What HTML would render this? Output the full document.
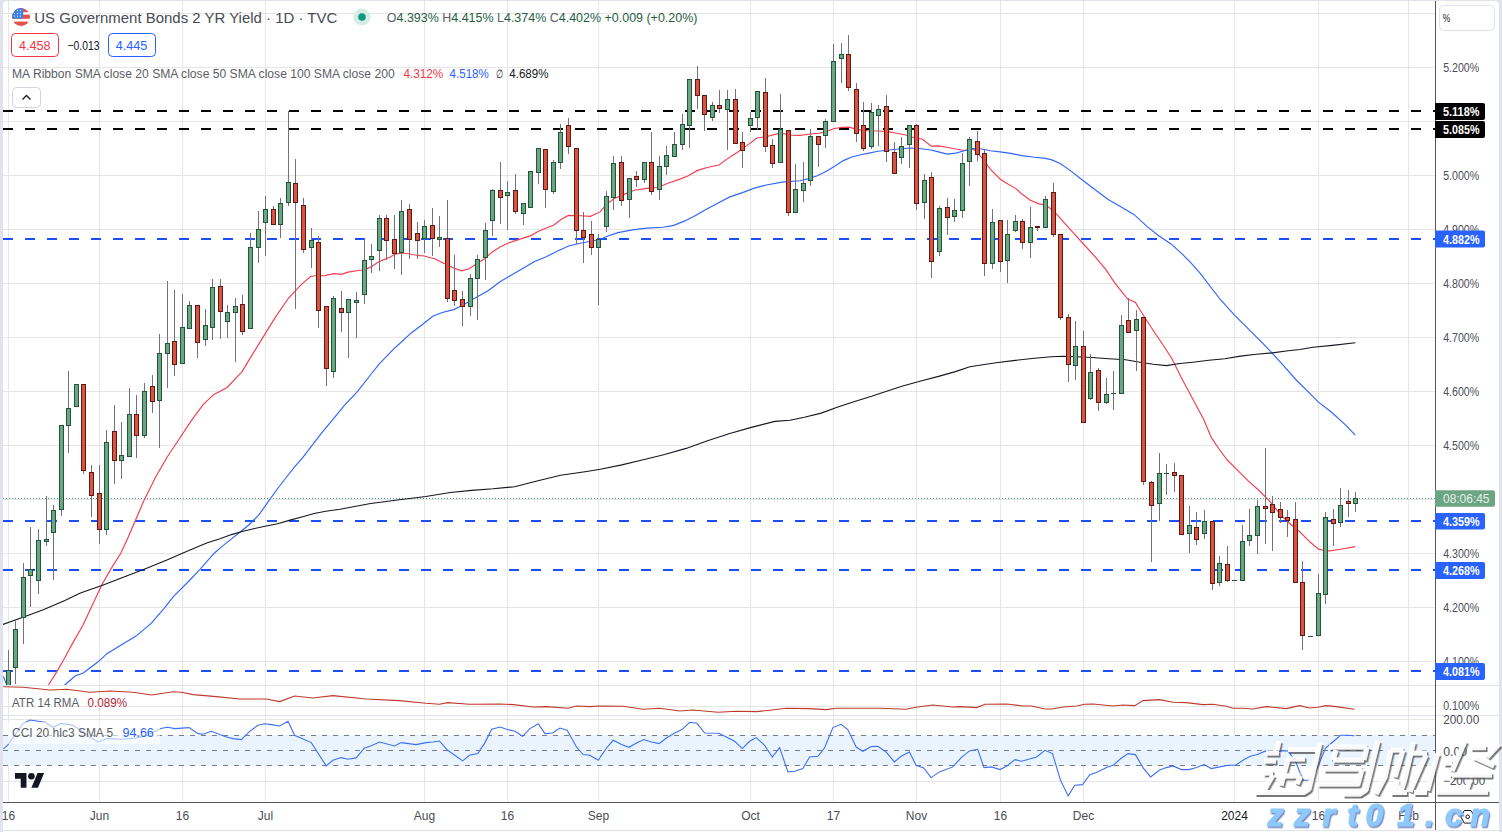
<!DOCTYPE html>
<html><head><meta charset="utf-8"><title>US02Y chart</title>
<style>
html,body{margin:0;padding:0;background:#e0e3eb;}
svg{display:block;}
text{font-family:"Liberation Sans",sans-serif;}
</style></head><body>
<svg width="1502" height="832" viewBox="0 0 1502 832">
<defs>
<clipPath id="cp"><rect x="3" y="1" width="1432" height="684"/></clipPath>
<clipPath id="ca"><rect x="3" y="686" width="1432" height="29"/></clipPath>
<clipPath id="cc"><rect x="3" y="716" width="1432" height="86"/></clipPath>
</defs>
<rect x="0" y="0" width="1502" height="832" fill="#e0e3eb"/>
<rect x="3" y="1" width="1496" height="40" rx="4" fill="#ffffff"/>
<rect x="3" y="20" width="1496" height="812" fill="#ffffff"/>
<rect x="3" y="830" width="1496" height="1" fill="#e0e3eb"/>

<rect x="3" y="13" width="1432" height="1" fill="#e6e6e6"/>
<rect x="3" y="67" width="1432" height="1" fill="#e6e6e6"/>
<rect x="3" y="121" width="1432" height="1" fill="#e6e6e6"/>
<rect x="3" y="175" width="1432" height="1" fill="#e6e6e6"/>
<rect x="3" y="229" width="1432" height="1" fill="#e6e6e6"/>
<rect x="3" y="283" width="1432" height="1" fill="#e6e6e6"/>
<rect x="3" y="337" width="1432" height="1" fill="#e6e6e6"/>
<rect x="3" y="391" width="1432" height="1" fill="#e6e6e6"/>
<rect x="3" y="445" width="1432" height="1" fill="#e6e6e6"/>
<rect x="3" y="499" width="1432" height="1" fill="#e6e6e6"/>
<rect x="3" y="553" width="1432" height="1" fill="#e6e6e6"/>
<rect x="3" y="607" width="1432" height="1" fill="#e6e6e6"/>
<rect x="3" y="661" width="1432" height="1" fill="#e6e6e6"/>
<rect x="8" y="1" width="1" height="801" fill="#e6e6e6"/>
<rect x="99" y="1" width="1" height="801" fill="#e6e6e6"/>
<rect x="182" y="1" width="1" height="801" fill="#e6e6e6"/>
<rect x="265" y="1" width="1" height="801" fill="#e6e6e6"/>
<rect x="424" y="1" width="1" height="801" fill="#e6e6e6"/>
<rect x="507" y="1" width="1" height="801" fill="#e6e6e6"/>
<rect x="598" y="1" width="1" height="801" fill="#e6e6e6"/>
<rect x="750" y="1" width="1" height="801" fill="#e6e6e6"/>
<rect x="833" y="1" width="1" height="801" fill="#e6e6e6"/>
<rect x="916" y="1" width="1" height="801" fill="#e6e6e6"/>
<rect x="1000" y="1" width="1" height="801" fill="#e6e6e6"/>
<rect x="1083" y="1" width="1" height="801" fill="#e6e6e6"/>
<rect x="1234" y="1" width="1" height="801" fill="#e6e6e6"/>
<rect x="1318" y="1" width="1" height="801" fill="#e6e6e6"/>
<rect x="1408" y="1" width="1" height="801" fill="#e6e6e6"/>
<rect x="3" y="706" width="1432" height="1" fill="#e6e6e6"/>
<rect x="3" y="719" width="1432" height="1" fill="#e6e6e6"/>
<rect x="3" y="781" width="1432" height="1" fill="#e6e6e6"/>
<rect x="3" y="685" width="1496" height="1" fill="#e0e3eb"/>
<rect x="3" y="715" width="1496" height="1" fill="#e0e3eb"/>
<g clip-path="url(#cp)">
<line x1="3" y1="111" x2="1435" y2="111" stroke="#000000" stroke-width="2" stroke-dasharray="10 12"/>
<line x1="3" y1="129" x2="1435" y2="129" stroke="#000000" stroke-width="2" stroke-dasharray="10 12"/>
<line x1="3" y1="239" x2="1435" y2="239" stroke="#1a4fff" stroke-width="2" stroke-dasharray="10 12"/>
<line x1="3" y1="521" x2="1435" y2="521" stroke="#1a4fff" stroke-width="2" stroke-dasharray="10 12"/>
<line x1="3" y1="570" x2="1435" y2="570" stroke="#1a4fff" stroke-width="2" stroke-dasharray="10 12"/>
<line x1="3" y1="671" x2="1435" y2="671" stroke="#1a4fff" stroke-width="2" stroke-dasharray="10 12"/>
<line x1="3" y1="498.5" x2="1435" y2="498.5" stroke="#4f9a72" stroke-width="1" stroke-dasharray="1 2"/>
<polyline points="44.0,692.0 48.8,684.5 55.2,674.4 64.0,659.3 72.8,642.9 82.9,625.2 91.8,606.3 101.9,584.8 112.0,567.1 120.8,553.2 128.4,536.8 136.0,519.1 143.5,501.5 151.1,486.3 155.0,478.2 167.0,457.2 179.0,439.2 191.0,421.2 203.1,404.7 213.6,394.7 227.1,387.5 242.1,371.6 251.1,356.6 263.1,337.1 275.1,317.6 288.6,298.0 300.0,285.9 305.8,280.6 310.6,276.5 315.4,275.8 325.0,275.6 333.7,273.7 341.3,274.3 348.1,272.1 361.5,270.0 367.3,268.6 372.1,266.2 378.8,261.8 384.6,259.4 390.4,257.0 395.2,254.1 401.9,253.0 408.7,253.7 413.5,254.8 420.0,255.6 423.1,255.8 434.6,258.7 444.2,263.5 451.9,267.3 461.5,270.8 469.2,268.8 476.9,263.5 484.6,258.7 492.3,251.9 500.0,247.1 507.7,243.3 519.2,239.4 530.8,235.6 538.5,231.3 553.8,225.0 561.5,219.2 568.3,215.4 580.8,215.8 590.4,216.3 600.0,211.9 607.2,203.8 614.4,198.4 625.2,193.9 634.3,190.3 646.9,188.4 657.7,187.5 668.5,183.0 679.3,179.4 688.4,175.8 697.4,170.4 708.2,167.3 719.0,165.0 726.2,159.6 737.1,152.4 746.1,146.1 756.9,138.0 765.9,136.7 773.1,134.9 780.3,133.1 791.2,135.2 800.0,135.3 808.7,134.3 818.7,133.2 826.0,132.0 833.2,128.8 841.8,127.4 849.0,127.1 857.7,129.6 867.8,130.7 877.9,131.0 886.5,131.4 898.1,133.5 906.7,135.3 913.9,137.8 922.6,139.2 931.2,146.1 938.4,145.9 947.1,147.3 955.7,149.0 964.4,150.5 973.0,148.7 981.7,157.7 990.3,169.2 1000.0,179.0 1006.5,183.3 1015.2,188.1 1021.6,193.7 1030.3,200.2 1039.0,203.9 1045.5,204.9 1054.1,211.4 1062.8,221.2 1073.6,233.1 1084.4,245.0 1095.2,256.9 1106.1,269.9 1114.7,282.9 1127.7,299.1 1135.3,302.3 1140.0,310.0 1150.6,326.5 1161.2,342.3 1171.7,358.2 1182.3,379.4 1192.9,399.2 1203.5,419.0 1211.4,437.6 1219.4,449.5 1227.3,460.0 1237.9,470.6 1248.5,481.2 1259.0,490.5 1269.6,501.1 1280.0,514.0 1288.7,522.8 1299.5,531.5 1310.3,542.3 1318.9,549.4 1323.3,550.3 1329.8,550.9 1340.6,549.2 1355.3,546.6" fill="none" stroke="#f33d4f" stroke-width="1.15"/>
<polyline points="62.0,688.0 65.3,684.5 75.4,675.7 82.9,673.2 98.1,661.8 106.9,653.7 118.3,646.7 136.0,636.1 151.1,623.4 163.7,608.8 173.8,596.2 186.5,583.5 199.1,570.4 214.2,553.2 220.0,548.1 229.6,540.4 239.2,532.7 248.8,525.0 258.5,515.4 268.1,501.9 277.7,488.5 287.3,476.0 295.0,466.3 302.7,457.7 312.3,445.2 321.9,432.7 331.5,421.2 344.4,405.3 357.4,391.6 370.4,375.0 379.1,364.2 393.5,349.1 400.0,343.3 411.5,332.7 423.1,324.0 432.7,316.3 442.3,312.5 453.8,309.6 463.5,304.8 476.9,297.1 488.5,290.4 500.0,281.7 511.5,275.0 523.1,268.3 534.6,261.5 546.2,256.7 557.7,251.0 569.2,245.8 582.7,242.7 600.0,239.5 607.2,236.2 618.0,232.6 632.5,229.9 646.9,228.1 663.1,227.2 673.9,225.4 684.8,220.9 695.6,215.5 706.4,209.2 717.2,203.4 729.8,196.9 742.5,192.6 755.1,187.9 767.7,184.8 782.1,182.1 800.0,180.7 808.7,178.6 817.3,175.7 826.0,171.4 834.6,166.3 843.3,160.6 851.9,157.0 860.6,154.8 869.2,153.1 877.9,151.2 889.4,150.0 900.9,148.7 911.0,148.0 921.1,148.7 929.8,149.7 938.4,151.9 947.1,154.1 955.7,153.1 964.4,150.8 973.0,148.7 981.7,149.0 990.3,150.8 1000.0,151.9 1010.8,153.4 1021.6,155.6 1034.6,157.3 1045.5,158.4 1051.9,159.9 1060.6,163.8 1071.4,171.4 1082.3,180.0 1095.2,189.8 1108.2,199.5 1121.2,207.1 1134.2,214.7 1147.2,226.6 1158.0,235.2 1171.0,243.9 1181.8,253.6 1190.5,262.3 1200.0,273.1 1220.7,300.0 1235.2,315.9 1251.1,331.7 1267.0,347.6 1282.9,364.8 1296.2,380.0 1306.0,389.7 1317.9,401.6 1331.9,412.5 1344.9,424.4 1355.3,435.2" fill="none" stroke="#2f66fb" stroke-width="1.15"/>
<polyline points="2,675 4,678 6.5,684.4 8,688" fill="none" stroke="#2f66fb" stroke-width="1.15"/>
<polyline points="3.0,624.4 21.6,617.8 43.3,609.7 64.9,600.5 80.4,593.1 101.9,585.6 123.3,577.2 146.1,568.4 166.3,560.3 186.5,551.5 206.7,543.1 220.0,538.8 231.5,534.6 243.1,531.3 254.6,528.5 266.2,526.0 277.7,523.7 289.2,520.4 300.8,517.3 314.2,513.5 325.8,511.2 340.0,509.3 370.6,503.5 401.3,499.5 425.8,496.5 450.3,492.5 471.7,490.4 493.1,488.8 514.6,486.7 536.0,481.2 560.5,475.3 585.0,471.7 600.3,469.2 621.8,464.9 643.2,459.7 664.7,454.5 686.1,448.4 707.5,440.7 729.0,433.7 750.4,427.6 774.9,421.4 790.0,420.3 804.4,417.2 821.2,413.1 837.9,407.1 854.7,401.4 871.5,396.3 885.9,391.5 902.7,386.0 921.8,380.7 938.6,376.4 955.4,371.6 969.8,366.8 979.4,365.2 996.1,362.8 1015.3,360.4 1034.5,358.2 1051.3,356.8 1063.2,356.3 1077.6,356.8 1092.0,357.5 1108.8,358.7 1125.6,359.7 1140.0,362.2 1153.2,364.3 1166.5,365.6 1179.7,363.5 1192.9,362.2 1208.8,360.3 1224.7,358.7 1240.5,356.1 1256.4,354.2 1272.3,352.9 1288.1,350.8 1300.0,349.5 1313.1,347.3 1332.3,345.4 1355.4,342.7" fill="none" stroke="#131722" stroke-width="1.1"/>
<rect x="8" y="650" width="1" height="50" fill="#737375"/>
<rect x="6" y="670" width="5" height="30" fill="#225437"/>
<rect x="7" y="671" width="3" height="28" fill="#6ba583"/>
<rect x="15" y="621" width="1" height="63" fill="#737375"/>
<rect x="13" y="629" width="5" height="39" fill="#225437"/>
<rect x="14" y="630" width="3" height="37" fill="#6ba583"/>
<rect x="23" y="563" width="1" height="81" fill="#737375"/>
<rect x="21" y="577" width="5" height="41" fill="#225437"/>
<rect x="22" y="578" width="3" height="39" fill="#6ba583"/>
<rect x="30" y="527" width="1" height="80" fill="#737375"/>
<rect x="28" y="569" width="5" height="7" fill="#225437"/>
<rect x="29" y="570" width="3" height="5" fill="#6ba583"/>
<rect x="38" y="529" width="1" height="65" fill="#737375"/>
<rect x="36" y="540" width="5" height="41" fill="#225437"/>
<rect x="37" y="541" width="3" height="39" fill="#6ba583"/>
<rect x="46" y="496" width="1" height="50" fill="#737375"/>
<rect x="44" y="539" width="5" height="3" fill="#225437"/>
<rect x="45" y="540" width="3" height="1" fill="#6ba583"/>
<rect x="53" y="505" width="1" height="75" fill="#737375"/>
<rect x="51" y="510" width="5" height="23" fill="#225437"/>
<rect x="52" y="511" width="3" height="21" fill="#6ba583"/>
<rect x="61" y="425" width="1" height="91" fill="#737375"/>
<rect x="59" y="425" width="5" height="85" fill="#225437"/>
<rect x="60" y="426" width="3" height="83" fill="#6ba583"/>
<rect x="68" y="371" width="1" height="82" fill="#737375"/>
<rect x="66" y="408" width="5" height="18" fill="#225437"/>
<rect x="67" y="409" width="3" height="16" fill="#6ba583"/>
<rect x="76" y="384" width="1" height="22" fill="#737375"/>
<rect x="74" y="384" width="5" height="23" fill="#225437"/>
<rect x="75" y="385" width="3" height="21" fill="#6ba583"/>
<rect x="83" y="384" width="1" height="90" fill="#737375"/>
<rect x="81" y="384" width="5" height="87" fill="#5b1a13"/>
<rect x="82" y="385" width="3" height="85" fill="#d75442"/>
<rect x="91" y="465" width="1" height="52" fill="#737375"/>
<rect x="89" y="472" width="5" height="24" fill="#5b1a13"/>
<rect x="90" y="473" width="3" height="22" fill="#d75442"/>
<rect x="99" y="465" width="1" height="79" fill="#737375"/>
<rect x="97" y="493" width="5" height="37" fill="#5b1a13"/>
<rect x="98" y="494" width="3" height="35" fill="#d75442"/>
<rect x="106" y="430" width="1" height="105" fill="#737375"/>
<rect x="104" y="442" width="5" height="88" fill="#225437"/>
<rect x="105" y="443" width="3" height="86" fill="#6ba583"/>
<rect x="114" y="405" width="1" height="79" fill="#737375"/>
<rect x="112" y="431" width="5" height="30" fill="#5b1a13"/>
<rect x="113" y="432" width="3" height="28" fill="#d75442"/>
<rect x="121" y="422" width="1" height="57" fill="#737375"/>
<rect x="119" y="455" width="5" height="6" fill="#225437"/>
<rect x="120" y="456" width="3" height="4" fill="#6ba583"/>
<rect x="129" y="388" width="1" height="68" fill="#737375"/>
<rect x="127" y="414" width="5" height="43" fill="#225437"/>
<rect x="128" y="415" width="3" height="41" fill="#6ba583"/>
<rect x="136" y="395" width="1" height="63" fill="#737375"/>
<rect x="134" y="414" width="5" height="22" fill="#5b1a13"/>
<rect x="135" y="415" width="3" height="20" fill="#d75442"/>
<rect x="144" y="383" width="1" height="55" fill="#737375"/>
<rect x="142" y="391" width="5" height="45" fill="#225437"/>
<rect x="143" y="392" width="3" height="43" fill="#6ba583"/>
<rect x="152" y="375" width="1" height="38" fill="#737375"/>
<rect x="150" y="386" width="5" height="16" fill="#5b1a13"/>
<rect x="151" y="387" width="3" height="14" fill="#d75442"/>
<rect x="159" y="334" width="1" height="114" fill="#737375"/>
<rect x="157" y="353" width="5" height="48" fill="#225437"/>
<rect x="158" y="354" width="3" height="46" fill="#6ba583"/>
<rect x="167" y="281" width="1" height="107" fill="#737375"/>
<rect x="165" y="343" width="5" height="11" fill="#225437"/>
<rect x="166" y="344" width="3" height="9" fill="#6ba583"/>
<rect x="174" y="290" width="1" height="86" fill="#737375"/>
<rect x="172" y="341" width="5" height="24" fill="#5b1a13"/>
<rect x="173" y="342" width="3" height="22" fill="#d75442"/>
<rect x="182" y="294" width="1" height="70" fill="#737375"/>
<rect x="180" y="327" width="5" height="37" fill="#225437"/>
<rect x="181" y="328" width="3" height="35" fill="#6ba583"/>
<rect x="189" y="301" width="1" height="27" fill="#737375"/>
<rect x="187" y="305" width="5" height="24" fill="#225437"/>
<rect x="188" y="306" width="3" height="22" fill="#6ba583"/>
<rect x="197" y="305" width="1" height="53" fill="#737375"/>
<rect x="195" y="305" width="5" height="38" fill="#5b1a13"/>
<rect x="196" y="306" width="3" height="36" fill="#d75442"/>
<rect x="205" y="309" width="1" height="37" fill="#737375"/>
<rect x="203" y="325" width="5" height="15" fill="#225437"/>
<rect x="204" y="326" width="3" height="13" fill="#6ba583"/>
<rect x="212" y="279" width="1" height="61" fill="#737375"/>
<rect x="210" y="287" width="5" height="41" fill="#225437"/>
<rect x="211" y="288" width="3" height="39" fill="#6ba583"/>
<rect x="220" y="279" width="1" height="60" fill="#737375"/>
<rect x="218" y="286" width="5" height="26" fill="#5b1a13"/>
<rect x="219" y="287" width="3" height="24" fill="#d75442"/>
<rect x="227" y="305" width="1" height="33" fill="#737375"/>
<rect x="225" y="312" width="5" height="10" fill="#225437"/>
<rect x="226" y="313" width="3" height="8" fill="#6ba583"/>
<rect x="235" y="298" width="1" height="64" fill="#737375"/>
<rect x="233" y="306" width="5" height="7" fill="#225437"/>
<rect x="234" y="307" width="3" height="5" fill="#6ba583"/>
<rect x="242" y="295" width="1" height="40" fill="#737375"/>
<rect x="240" y="304" width="5" height="28" fill="#5b1a13"/>
<rect x="241" y="305" width="3" height="26" fill="#d75442"/>
<rect x="250" y="233" width="1" height="95" fill="#737375"/>
<rect x="248" y="247" width="5" height="82" fill="#225437"/>
<rect x="249" y="248" width="3" height="80" fill="#6ba583"/>
<rect x="258" y="211" width="1" height="52" fill="#737375"/>
<rect x="256" y="229" width="5" height="19" fill="#225437"/>
<rect x="257" y="230" width="3" height="17" fill="#6ba583"/>
<rect x="265" y="196" width="1" height="60" fill="#737375"/>
<rect x="263" y="209" width="5" height="14" fill="#225437"/>
<rect x="264" y="210" width="3" height="12" fill="#6ba583"/>
<rect x="273" y="206" width="1" height="18" fill="#737375"/>
<rect x="271" y="209" width="5" height="16" fill="#5b1a13"/>
<rect x="272" y="210" width="3" height="14" fill="#d75442"/>
<rect x="280" y="198" width="1" height="40" fill="#737375"/>
<rect x="278" y="203" width="5" height="22" fill="#225437"/>
<rect x="279" y="204" width="3" height="20" fill="#6ba583"/>
<rect x="288" y="111" width="1" height="95" fill="#737375"/>
<rect x="286" y="182" width="5" height="21" fill="#225437"/>
<rect x="287" y="183" width="3" height="19" fill="#6ba583"/>
<rect x="295" y="159" width="1" height="150" fill="#737375"/>
<rect x="293" y="183" width="5" height="20" fill="#5b1a13"/>
<rect x="294" y="184" width="3" height="18" fill="#d75442"/>
<rect x="303" y="198" width="1" height="55" fill="#737375"/>
<rect x="301" y="205" width="5" height="45" fill="#5b1a13"/>
<rect x="302" y="206" width="3" height="43" fill="#d75442"/>
<rect x="311" y="228" width="1" height="40" fill="#737375"/>
<rect x="309" y="240" width="5" height="8" fill="#225437"/>
<rect x="310" y="241" width="3" height="6" fill="#6ba583"/>
<rect x="318" y="236" width="1" height="92" fill="#737375"/>
<rect x="316" y="242" width="5" height="69" fill="#5b1a13"/>
<rect x="317" y="243" width="3" height="67" fill="#d75442"/>
<rect x="326" y="306" width="1" height="80" fill="#737375"/>
<rect x="324" y="306" width="5" height="63" fill="#5b1a13"/>
<rect x="325" y="307" width="3" height="61" fill="#d75442"/>
<rect x="333" y="296" width="1" height="82" fill="#737375"/>
<rect x="331" y="298" width="5" height="74" fill="#225437"/>
<rect x="332" y="299" width="3" height="72" fill="#6ba583"/>
<rect x="341" y="291" width="1" height="41" fill="#737375"/>
<rect x="339" y="308" width="5" height="5" fill="#5b1a13"/>
<rect x="340" y="309" width="3" height="3" fill="#d75442"/>
<rect x="348" y="299" width="1" height="59" fill="#737375"/>
<rect x="346" y="299" width="5" height="14" fill="#225437"/>
<rect x="347" y="300" width="3" height="12" fill="#6ba583"/>
<rect x="356" y="292" width="1" height="46" fill="#737375"/>
<rect x="354" y="300" width="5" height="3" fill="#225437"/>
<rect x="355" y="301" width="3" height="1" fill="#6ba583"/>
<rect x="364" y="239" width="1" height="65" fill="#737375"/>
<rect x="362" y="260" width="5" height="35" fill="#225437"/>
<rect x="363" y="261" width="3" height="33" fill="#6ba583"/>
<rect x="371" y="244" width="1" height="29" fill="#737375"/>
<rect x="369" y="256" width="5" height="4" fill="#225437"/>
<rect x="370" y="257" width="3" height="2" fill="#6ba583"/>
<rect x="379" y="215" width="1" height="56" fill="#737375"/>
<rect x="377" y="218" width="5" height="33" fill="#225437"/>
<rect x="378" y="219" width="3" height="31" fill="#6ba583"/>
<rect x="386" y="215" width="1" height="45" fill="#737375"/>
<rect x="384" y="218" width="5" height="23" fill="#5b1a13"/>
<rect x="385" y="219" width="3" height="21" fill="#d75442"/>
<rect x="394" y="215" width="1" height="54" fill="#737375"/>
<rect x="392" y="239" width="5" height="15" fill="#5b1a13"/>
<rect x="393" y="240" width="3" height="13" fill="#d75442"/>
<rect x="401" y="200" width="1" height="75" fill="#737375"/>
<rect x="399" y="211" width="5" height="42" fill="#225437"/>
<rect x="400" y="212" width="3" height="40" fill="#6ba583"/>
<rect x="409" y="204" width="1" height="55" fill="#737375"/>
<rect x="407" y="209" width="5" height="31" fill="#5b1a13"/>
<rect x="408" y="210" width="3" height="29" fill="#d75442"/>
<rect x="417" y="222" width="1" height="37" fill="#737375"/>
<rect x="415" y="233" width="5" height="8" fill="#5b1a13"/>
<rect x="416" y="234" width="3" height="6" fill="#d75442"/>
<rect x="424" y="220" width="1" height="33" fill="#737375"/>
<rect x="422" y="226" width="5" height="13" fill="#225437"/>
<rect x="423" y="227" width="3" height="11" fill="#6ba583"/>
<rect x="432" y="208" width="1" height="48" fill="#737375"/>
<rect x="430" y="225" width="5" height="14" fill="#5b1a13"/>
<rect x="431" y="226" width="3" height="12" fill="#d75442"/>
<rect x="439" y="216" width="1" height="31" fill="#737375"/>
<rect x="437" y="237" width="5" height="3" fill="#225437"/>
<rect x="438" y="238" width="3" height="1" fill="#6ba583"/>
<rect x="447" y="200" width="1" height="102" fill="#737375"/>
<rect x="445" y="238" width="5" height="61" fill="#5b1a13"/>
<rect x="446" y="239" width="3" height="59" fill="#d75442"/>
<rect x="454" y="255" width="1" height="51" fill="#737375"/>
<rect x="452" y="290" width="5" height="11" fill="#5b1a13"/>
<rect x="453" y="291" width="3" height="9" fill="#d75442"/>
<rect x="462" y="291" width="1" height="35" fill="#737375"/>
<rect x="460" y="299" width="5" height="8" fill="#5b1a13"/>
<rect x="461" y="300" width="3" height="6" fill="#d75442"/>
<rect x="470" y="274" width="1" height="42" fill="#737375"/>
<rect x="468" y="278" width="5" height="29" fill="#225437"/>
<rect x="469" y="279" width="3" height="27" fill="#6ba583"/>
<rect x="477" y="255" width="1" height="65" fill="#737375"/>
<rect x="475" y="259" width="5" height="20" fill="#225437"/>
<rect x="476" y="260" width="3" height="18" fill="#6ba583"/>
<rect x="485" y="223" width="1" height="57" fill="#737375"/>
<rect x="483" y="230" width="5" height="28" fill="#225437"/>
<rect x="484" y="231" width="3" height="26" fill="#6ba583"/>
<rect x="492" y="189" width="1" height="47" fill="#737375"/>
<rect x="490" y="190" width="5" height="31" fill="#225437"/>
<rect x="491" y="191" width="3" height="29" fill="#6ba583"/>
<rect x="500" y="162" width="1" height="62" fill="#737375"/>
<rect x="498" y="190" width="5" height="8" fill="#5b1a13"/>
<rect x="499" y="191" width="3" height="6" fill="#d75442"/>
<rect x="507" y="181" width="1" height="49" fill="#737375"/>
<rect x="505" y="192" width="5" height="4" fill="#225437"/>
<rect x="506" y="193" width="3" height="2" fill="#6ba583"/>
<rect x="515" y="174" width="1" height="40" fill="#737375"/>
<rect x="513" y="190" width="5" height="22" fill="#5b1a13"/>
<rect x="514" y="191" width="3" height="20" fill="#d75442"/>
<rect x="523" y="203" width="1" height="22" fill="#737375"/>
<rect x="521" y="203" width="5" height="11" fill="#225437"/>
<rect x="522" y="204" width="3" height="9" fill="#6ba583"/>
<rect x="530" y="171" width="1" height="37" fill="#737375"/>
<rect x="528" y="171" width="5" height="37" fill="#225437"/>
<rect x="529" y="172" width="3" height="35" fill="#6ba583"/>
<rect x="538" y="148" width="1" height="36" fill="#737375"/>
<rect x="536" y="148" width="5" height="25" fill="#225437"/>
<rect x="537" y="149" width="3" height="23" fill="#6ba583"/>
<rect x="545" y="149" width="1" height="59" fill="#737375"/>
<rect x="543" y="149" width="5" height="41" fill="#5b1a13"/>
<rect x="544" y="150" width="3" height="39" fill="#d75442"/>
<rect x="553" y="160" width="1" height="34" fill="#737375"/>
<rect x="551" y="162" width="5" height="30" fill="#225437"/>
<rect x="552" y="163" width="3" height="28" fill="#6ba583"/>
<rect x="560" y="124" width="1" height="45" fill="#737375"/>
<rect x="558" y="132" width="5" height="31" fill="#225437"/>
<rect x="559" y="133" width="3" height="29" fill="#6ba583"/>
<rect x="568" y="118" width="1" height="36" fill="#737375"/>
<rect x="566" y="125" width="5" height="22" fill="#5b1a13"/>
<rect x="567" y="126" width="3" height="20" fill="#d75442"/>
<rect x="576" y="148" width="1" height="96" fill="#737375"/>
<rect x="574" y="148" width="5" height="83" fill="#5b1a13"/>
<rect x="575" y="149" width="3" height="81" fill="#d75442"/>
<rect x="583" y="212" width="1" height="51" fill="#737375"/>
<rect x="581" y="230" width="5" height="8" fill="#5b1a13"/>
<rect x="582" y="231" width="3" height="6" fill="#d75442"/>
<rect x="591" y="221" width="1" height="34" fill="#737375"/>
<rect x="589" y="234" width="5" height="14" fill="#5b1a13"/>
<rect x="590" y="235" width="3" height="12" fill="#d75442"/>
<rect x="598" y="234" width="1" height="71" fill="#737375"/>
<rect x="596" y="239" width="5" height="9" fill="#225437"/>
<rect x="597" y="240" width="3" height="7" fill="#6ba583"/>
<rect x="606" y="191" width="1" height="41" fill="#737375"/>
<rect x="604" y="196" width="5" height="31" fill="#225437"/>
<rect x="605" y="197" width="3" height="29" fill="#6ba583"/>
<rect x="613" y="156" width="1" height="54" fill="#737375"/>
<rect x="611" y="163" width="5" height="35" fill="#225437"/>
<rect x="612" y="164" width="3" height="33" fill="#6ba583"/>
<rect x="621" y="156" width="1" height="50" fill="#737375"/>
<rect x="619" y="162" width="5" height="39" fill="#5b1a13"/>
<rect x="620" y="163" width="3" height="37" fill="#d75442"/>
<rect x="629" y="178" width="1" height="40" fill="#737375"/>
<rect x="627" y="178" width="5" height="22" fill="#225437"/>
<rect x="628" y="179" width="3" height="20" fill="#6ba583"/>
<rect x="636" y="171" width="1" height="16" fill="#737375"/>
<rect x="634" y="176" width="5" height="4" fill="#5b1a13"/>
<rect x="635" y="177" width="3" height="2" fill="#d75442"/>
<rect x="644" y="162" width="1" height="21" fill="#737375"/>
<rect x="642" y="162" width="5" height="18" fill="#225437"/>
<rect x="643" y="163" width="3" height="16" fill="#6ba583"/>
<rect x="651" y="132" width="1" height="63" fill="#737375"/>
<rect x="649" y="162" width="5" height="30" fill="#5b1a13"/>
<rect x="650" y="163" width="3" height="28" fill="#d75442"/>
<rect x="659" y="156" width="1" height="44" fill="#737375"/>
<rect x="657" y="166" width="5" height="24" fill="#225437"/>
<rect x="658" y="167" width="3" height="22" fill="#6ba583"/>
<rect x="666" y="146" width="1" height="29" fill="#737375"/>
<rect x="664" y="155" width="5" height="12" fill="#225437"/>
<rect x="665" y="156" width="3" height="10" fill="#6ba583"/>
<rect x="674" y="132" width="1" height="24" fill="#737375"/>
<rect x="672" y="144" width="5" height="13" fill="#225437"/>
<rect x="673" y="145" width="3" height="11" fill="#6ba583"/>
<rect x="682" y="114" width="1" height="36" fill="#737375"/>
<rect x="680" y="124" width="5" height="21" fill="#225437"/>
<rect x="681" y="125" width="3" height="19" fill="#6ba583"/>
<rect x="689" y="79" width="1" height="69" fill="#737375"/>
<rect x="687" y="79" width="5" height="47" fill="#225437"/>
<rect x="688" y="80" width="3" height="45" fill="#6ba583"/>
<rect x="697" y="66" width="1" height="43" fill="#737375"/>
<rect x="695" y="79" width="5" height="17" fill="#5b1a13"/>
<rect x="696" y="80" width="3" height="15" fill="#d75442"/>
<rect x="704" y="95" width="1" height="36" fill="#737375"/>
<rect x="702" y="95" width="5" height="20" fill="#5b1a13"/>
<rect x="703" y="96" width="3" height="18" fill="#d75442"/>
<rect x="712" y="102" width="1" height="19" fill="#737375"/>
<rect x="710" y="105" width="5" height="13" fill="#225437"/>
<rect x="711" y="106" width="3" height="11" fill="#6ba583"/>
<rect x="719" y="90" width="1" height="23" fill="#737375"/>
<rect x="717" y="105" width="5" height="4" fill="#5b1a13"/>
<rect x="718" y="106" width="3" height="2" fill="#d75442"/>
<rect x="727" y="90" width="1" height="60" fill="#737375"/>
<rect x="725" y="99" width="5" height="11" fill="#225437"/>
<rect x="726" y="100" width="3" height="9" fill="#6ba583"/>
<rect x="735" y="89" width="1" height="55" fill="#737375"/>
<rect x="733" y="99" width="5" height="45" fill="#5b1a13"/>
<rect x="734" y="100" width="3" height="43" fill="#d75442"/>
<rect x="742" y="132" width="1" height="36" fill="#737375"/>
<rect x="740" y="142" width="5" height="9" fill="#5b1a13"/>
<rect x="741" y="143" width="3" height="7" fill="#d75442"/>
<rect x="750" y="112" width="1" height="20" fill="#737375"/>
<rect x="748" y="118" width="5" height="8" fill="#225437"/>
<rect x="749" y="119" width="3" height="6" fill="#6ba583"/>
<rect x="757" y="91" width="1" height="39" fill="#737375"/>
<rect x="755" y="91" width="5" height="27" fill="#225437"/>
<rect x="756" y="92" width="3" height="25" fill="#6ba583"/>
<rect x="765" y="78" width="1" height="74" fill="#737375"/>
<rect x="763" y="92" width="5" height="55" fill="#5b1a13"/>
<rect x="764" y="93" width="3" height="53" fill="#d75442"/>
<rect x="772" y="139" width="1" height="29" fill="#737375"/>
<rect x="770" y="145" width="5" height="19" fill="#5b1a13"/>
<rect x="771" y="146" width="3" height="17" fill="#d75442"/>
<rect x="780" y="94" width="1" height="68" fill="#737375"/>
<rect x="778" y="129" width="5" height="34" fill="#225437"/>
<rect x="779" y="130" width="3" height="32" fill="#6ba583"/>
<rect x="788" y="130" width="1" height="86" fill="#737375"/>
<rect x="786" y="130" width="5" height="83" fill="#5b1a13"/>
<rect x="787" y="131" width="3" height="81" fill="#d75442"/>
<rect x="795" y="164" width="1" height="48" fill="#737375"/>
<rect x="793" y="189" width="5" height="24" fill="#225437"/>
<rect x="794" y="190" width="3" height="22" fill="#6ba583"/>
<rect x="803" y="162" width="1" height="40" fill="#737375"/>
<rect x="801" y="183" width="5" height="8" fill="#225437"/>
<rect x="802" y="184" width="3" height="6" fill="#6ba583"/>
<rect x="810" y="129" width="1" height="57" fill="#737375"/>
<rect x="808" y="136" width="5" height="45" fill="#225437"/>
<rect x="809" y="137" width="3" height="43" fill="#6ba583"/>
<rect x="818" y="136" width="1" height="31" fill="#737375"/>
<rect x="816" y="136" width="5" height="9" fill="#5b1a13"/>
<rect x="817" y="137" width="3" height="7" fill="#d75442"/>
<rect x="825" y="119" width="1" height="29" fill="#737375"/>
<rect x="823" y="121" width="5" height="15" fill="#225437"/>
<rect x="824" y="122" width="3" height="13" fill="#6ba583"/>
<rect x="833" y="44" width="1" height="78" fill="#737375"/>
<rect x="831" y="61" width="5" height="61" fill="#225437"/>
<rect x="832" y="62" width="3" height="59" fill="#6ba583"/>
<rect x="841" y="43" width="1" height="40" fill="#737375"/>
<rect x="839" y="54" width="5" height="5" fill="#225437"/>
<rect x="840" y="55" width="3" height="3" fill="#6ba583"/>
<rect x="848" y="35" width="1" height="56" fill="#737375"/>
<rect x="846" y="54" width="5" height="34" fill="#5b1a13"/>
<rect x="847" y="55" width="3" height="32" fill="#d75442"/>
<rect x="856" y="83" width="1" height="59" fill="#737375"/>
<rect x="854" y="89" width="5" height="45" fill="#5b1a13"/>
<rect x="855" y="90" width="3" height="43" fill="#d75442"/>
<rect x="863" y="102" width="1" height="49" fill="#737375"/>
<rect x="861" y="125" width="5" height="24" fill="#5b1a13"/>
<rect x="862" y="126" width="3" height="22" fill="#d75442"/>
<rect x="871" y="103" width="1" height="46" fill="#737375"/>
<rect x="869" y="112" width="5" height="35" fill="#225437"/>
<rect x="870" y="113" width="3" height="33" fill="#6ba583"/>
<rect x="878" y="105" width="1" height="41" fill="#737375"/>
<rect x="876" y="109" width="5" height="7" fill="#225437"/>
<rect x="877" y="110" width="3" height="5" fill="#6ba583"/>
<rect x="886" y="95" width="1" height="67" fill="#737375"/>
<rect x="884" y="106" width="5" height="46" fill="#5b1a13"/>
<rect x="885" y="107" width="3" height="44" fill="#d75442"/>
<rect x="894" y="142" width="1" height="31" fill="#737375"/>
<rect x="892" y="152" width="5" height="22" fill="#5b1a13"/>
<rect x="893" y="153" width="3" height="20" fill="#d75442"/>
<rect x="901" y="137" width="1" height="27" fill="#737375"/>
<rect x="899" y="146" width="5" height="12" fill="#225437"/>
<rect x="900" y="147" width="3" height="10" fill="#6ba583"/>
<rect x="909" y="125" width="1" height="43" fill="#737375"/>
<rect x="907" y="125" width="5" height="20" fill="#225437"/>
<rect x="908" y="126" width="3" height="18" fill="#6ba583"/>
<rect x="916" y="124" width="1" height="86" fill="#737375"/>
<rect x="914" y="125" width="5" height="79" fill="#5b1a13"/>
<rect x="915" y="126" width="3" height="77" fill="#d75442"/>
<rect x="924" y="174" width="1" height="45" fill="#737375"/>
<rect x="922" y="180" width="5" height="23" fill="#225437"/>
<rect x="923" y="181" width="3" height="21" fill="#6ba583"/>
<rect x="931" y="172" width="1" height="106" fill="#737375"/>
<rect x="929" y="177" width="5" height="85" fill="#5b1a13"/>
<rect x="930" y="178" width="3" height="83" fill="#d75442"/>
<rect x="939" y="206" width="1" height="50" fill="#737375"/>
<rect x="937" y="208" width="5" height="44" fill="#225437"/>
<rect x="938" y="209" width="3" height="42" fill="#6ba583"/>
<rect x="947" y="198" width="1" height="37" fill="#737375"/>
<rect x="945" y="207" width="5" height="11" fill="#5b1a13"/>
<rect x="946" y="208" width="3" height="9" fill="#d75442"/>
<rect x="954" y="199" width="1" height="23" fill="#737375"/>
<rect x="952" y="210" width="5" height="7" fill="#225437"/>
<rect x="953" y="211" width="3" height="5" fill="#6ba583"/>
<rect x="962" y="153" width="1" height="65" fill="#737375"/>
<rect x="960" y="163" width="5" height="48" fill="#225437"/>
<rect x="961" y="164" width="3" height="46" fill="#6ba583"/>
<rect x="969" y="137" width="1" height="49" fill="#737375"/>
<rect x="967" y="139" width="5" height="23" fill="#225437"/>
<rect x="968" y="140" width="3" height="21" fill="#6ba583"/>
<rect x="977" y="131" width="1" height="30" fill="#737375"/>
<rect x="975" y="141" width="5" height="14" fill="#5b1a13"/>
<rect x="976" y="142" width="3" height="12" fill="#d75442"/>
<rect x="984" y="149" width="1" height="127" fill="#737375"/>
<rect x="982" y="153" width="5" height="111" fill="#5b1a13"/>
<rect x="983" y="154" width="3" height="109" fill="#d75442"/>
<rect x="992" y="209" width="1" height="60" fill="#737375"/>
<rect x="990" y="222" width="5" height="42" fill="#225437"/>
<rect x="991" y="223" width="3" height="40" fill="#6ba583"/>
<rect x="1000" y="220" width="1" height="52" fill="#737375"/>
<rect x="998" y="220" width="5" height="42" fill="#5b1a13"/>
<rect x="999" y="221" width="3" height="40" fill="#d75442"/>
<rect x="1007" y="220" width="1" height="63" fill="#737375"/>
<rect x="1005" y="234" width="5" height="27" fill="#225437"/>
<rect x="1006" y="235" width="3" height="25" fill="#6ba583"/>
<rect x="1015" y="215" width="1" height="17" fill="#737375"/>
<rect x="1013" y="221" width="5" height="10" fill="#225437"/>
<rect x="1014" y="222" width="3" height="8" fill="#6ba583"/>
<rect x="1022" y="219" width="1" height="30" fill="#737375"/>
<rect x="1020" y="221" width="5" height="22" fill="#5b1a13"/>
<rect x="1021" y="222" width="3" height="20" fill="#d75442"/>
<rect x="1030" y="207" width="1" height="51" fill="#737375"/>
<rect x="1028" y="227" width="5" height="16" fill="#225437"/>
<rect x="1029" y="228" width="3" height="14" fill="#6ba583"/>
<rect x="1037" y="226" width="1" height="5" fill="#737375"/>
<rect x="1035" y="226" width="5" height="2" fill="#5b1a13"/>
<rect x="1045" y="196" width="1" height="32" fill="#737375"/>
<rect x="1043" y="199" width="5" height="29" fill="#225437"/>
<rect x="1044" y="200" width="3" height="27" fill="#6ba583"/>
<rect x="1053" y="183" width="1" height="54" fill="#737375"/>
<rect x="1051" y="192" width="5" height="43" fill="#5b1a13"/>
<rect x="1052" y="193" width="3" height="41" fill="#d75442"/>
<rect x="1060" y="234" width="1" height="86" fill="#737375"/>
<rect x="1058" y="234" width="5" height="84" fill="#5b1a13"/>
<rect x="1059" y="235" width="3" height="82" fill="#d75442"/>
<rect x="1068" y="314" width="1" height="68" fill="#737375"/>
<rect x="1066" y="317" width="5" height="48" fill="#5b1a13"/>
<rect x="1067" y="318" width="3" height="46" fill="#d75442"/>
<rect x="1075" y="321" width="1" height="59" fill="#737375"/>
<rect x="1073" y="346" width="5" height="20" fill="#225437"/>
<rect x="1074" y="347" width="3" height="18" fill="#6ba583"/>
<rect x="1083" y="331" width="1" height="91" fill="#737375"/>
<rect x="1081" y="346" width="5" height="77" fill="#5b1a13"/>
<rect x="1082" y="347" width="3" height="75" fill="#d75442"/>
<rect x="1090" y="354" width="1" height="46" fill="#737375"/>
<rect x="1088" y="372" width="5" height="27" fill="#225437"/>
<rect x="1089" y="373" width="3" height="25" fill="#6ba583"/>
<rect x="1098" y="368" width="1" height="43" fill="#737375"/>
<rect x="1096" y="370" width="5" height="33" fill="#5b1a13"/>
<rect x="1097" y="371" width="3" height="31" fill="#d75442"/>
<rect x="1106" y="378" width="1" height="26" fill="#737375"/>
<rect x="1104" y="394" width="5" height="9" fill="#225437"/>
<rect x="1105" y="395" width="3" height="7" fill="#6ba583"/>
<rect x="1113" y="371" width="1" height="39" fill="#737375"/>
<rect x="1111" y="393" width="5" height="1" fill="#225437"/>
<rect x="1121" y="315" width="1" height="79" fill="#737375"/>
<rect x="1119" y="325" width="5" height="69" fill="#225437"/>
<rect x="1120" y="326" width="3" height="67" fill="#6ba583"/>
<rect x="1128" y="298" width="1" height="34" fill="#737375"/>
<rect x="1126" y="320" width="5" height="13" fill="#5b1a13"/>
<rect x="1127" y="321" width="3" height="11" fill="#d75442"/>
<rect x="1136" y="310" width="1" height="61" fill="#737375"/>
<rect x="1134" y="319" width="5" height="12" fill="#225437"/>
<rect x="1135" y="320" width="3" height="10" fill="#6ba583"/>
<rect x="1143" y="317" width="1" height="168" fill="#737375"/>
<rect x="1141" y="317" width="5" height="165" fill="#5b1a13"/>
<rect x="1142" y="318" width="3" height="163" fill="#d75442"/>
<rect x="1151" y="481" width="1" height="81" fill="#737375"/>
<rect x="1149" y="482" width="5" height="24" fill="#5b1a13"/>
<rect x="1150" y="483" width="3" height="22" fill="#d75442"/>
<rect x="1159" y="453" width="1" height="68" fill="#737375"/>
<rect x="1157" y="473" width="5" height="31" fill="#225437"/>
<rect x="1158" y="474" width="3" height="29" fill="#6ba583"/>
<rect x="1166" y="464" width="1" height="31" fill="#737375"/>
<rect x="1164" y="473" width="5" height="1" fill="#225437"/>
<rect x="1174" y="463" width="1" height="29" fill="#737375"/>
<rect x="1172" y="472" width="5" height="4" fill="#5b1a13"/>
<rect x="1173" y="473" width="3" height="2" fill="#d75442"/>
<rect x="1181" y="475" width="1" height="60" fill="#737375"/>
<rect x="1179" y="475" width="5" height="60" fill="#5b1a13"/>
<rect x="1180" y="476" width="3" height="58" fill="#d75442"/>
<rect x="1189" y="506" width="1" height="47" fill="#737375"/>
<rect x="1187" y="525" width="5" height="9" fill="#225437"/>
<rect x="1188" y="526" width="3" height="7" fill="#6ba583"/>
<rect x="1196" y="512" width="1" height="33" fill="#737375"/>
<rect x="1194" y="527" width="5" height="13" fill="#5b1a13"/>
<rect x="1195" y="528" width="3" height="11" fill="#d75442"/>
<rect x="1204" y="510" width="1" height="29" fill="#737375"/>
<rect x="1202" y="521" width="5" height="13" fill="#225437"/>
<rect x="1203" y="522" width="3" height="11" fill="#6ba583"/>
<rect x="1212" y="521" width="1" height="69" fill="#737375"/>
<rect x="1210" y="521" width="5" height="63" fill="#5b1a13"/>
<rect x="1211" y="522" width="3" height="61" fill="#d75442"/>
<rect x="1219" y="556" width="1" height="30" fill="#737375"/>
<rect x="1217" y="563" width="5" height="20" fill="#225437"/>
<rect x="1218" y="564" width="3" height="18" fill="#6ba583"/>
<rect x="1227" y="546" width="1" height="36" fill="#737375"/>
<rect x="1225" y="564" width="5" height="17" fill="#5b1a13"/>
<rect x="1226" y="565" width="3" height="15" fill="#d75442"/>
<rect x="1232" y="580" width="5" height="1" fill="#225437"/>
<rect x="1242" y="525" width="1" height="55" fill="#737375"/>
<rect x="1240" y="541" width="5" height="40" fill="#225437"/>
<rect x="1241" y="542" width="3" height="38" fill="#6ba583"/>
<rect x="1249" y="509" width="1" height="37" fill="#737375"/>
<rect x="1247" y="535" width="5" height="6" fill="#225437"/>
<rect x="1248" y="536" width="3" height="4" fill="#6ba583"/>
<rect x="1257" y="500" width="1" height="54" fill="#737375"/>
<rect x="1255" y="506" width="5" height="30" fill="#225437"/>
<rect x="1256" y="507" width="3" height="28" fill="#6ba583"/>
<rect x="1265" y="448" width="1" height="96" fill="#737375"/>
<rect x="1263" y="506" width="5" height="3" fill="#5b1a13"/>
<rect x="1264" y="507" width="3" height="1" fill="#d75442"/>
<rect x="1272" y="496" width="1" height="55" fill="#737375"/>
<rect x="1270" y="504" width="5" height="9" fill="#5b1a13"/>
<rect x="1271" y="505" width="3" height="7" fill="#d75442"/>
<rect x="1280" y="502" width="1" height="21" fill="#737375"/>
<rect x="1278" y="509" width="5" height="9" fill="#5b1a13"/>
<rect x="1279" y="510" width="3" height="7" fill="#d75442"/>
<rect x="1287" y="510" width="1" height="27" fill="#737375"/>
<rect x="1285" y="517" width="5" height="4" fill="#5b1a13"/>
<rect x="1286" y="518" width="3" height="2" fill="#d75442"/>
<rect x="1295" y="502" width="1" height="80" fill="#737375"/>
<rect x="1293" y="519" width="5" height="64" fill="#5b1a13"/>
<rect x="1294" y="520" width="3" height="62" fill="#d75442"/>
<rect x="1302" y="561" width="1" height="89" fill="#737375"/>
<rect x="1300" y="582" width="5" height="54" fill="#5b1a13"/>
<rect x="1301" y="583" width="3" height="52" fill="#d75442"/>
<rect x="1308" y="636" width="5" height="1" fill="#225437"/>
<rect x="1318" y="574" width="1" height="62" fill="#737375"/>
<rect x="1316" y="593" width="5" height="43" fill="#225437"/>
<rect x="1317" y="594" width="3" height="41" fill="#6ba583"/>
<rect x="1325" y="512" width="1" height="92" fill="#737375"/>
<rect x="1323" y="517" width="5" height="78" fill="#225437"/>
<rect x="1324" y="518" width="3" height="76" fill="#6ba583"/>
<rect x="1333" y="509" width="1" height="37" fill="#737375"/>
<rect x="1331" y="519" width="5" height="5" fill="#5b1a13"/>
<rect x="1332" y="520" width="3" height="3" fill="#d75442"/>
<rect x="1340" y="488" width="1" height="39" fill="#737375"/>
<rect x="1338" y="505" width="5" height="18" fill="#225437"/>
<rect x="1339" y="506" width="3" height="16" fill="#6ba583"/>
<rect x="1348" y="490" width="1" height="27" fill="#737375"/>
<rect x="1346" y="501" width="5" height="3" fill="#5b1a13"/>
<rect x="1347" y="502" width="3" height="1" fill="#d75442"/>
<rect x="1355" y="492" width="1" height="20" fill="#737375"/>
<rect x="1353" y="498" width="5" height="6" fill="#225437"/>
<rect x="1354" y="499" width="3" height="4" fill="#6ba583"/>
</g>
<g clip-path="url(#ca)">
<polyline points="3.3,686.7 23.3,687.3 50.0,690.0 66.6,689.3 89.9,692.3 109.9,691.0 133.2,692.3 151.5,695.0 173.1,691.7 181.4,692.3 193.1,694.6 216.4,696.6 239.7,699.0 266.3,699.0 279.6,701.6 294.6,696.0 312.9,698.0 332.9,695.6 366.2,699.0 399.5,700.6 426.1,703.3 439.4,704.3 447.7,702.6 469.4,704.3 500.0,704.0 513.3,704.6 533.3,707.0 546.6,706.6 568.2,708.3 576.5,706.0 589.9,706.6 599.8,706.0 623.1,706.3 643.1,709.3 659.8,708.3 679.7,711.0 693.0,710.0 718.0,712.3 736.3,711.3 756.3,711.6 769.6,710.3 786.3,708.3 809.6,708.6 826.2,709.6 836.2,708.3 879.5,708.3 906.1,709.3 916.1,707.3 932.7,705.0 952.7,707.0 960.0,706.6 976.6,707.6 985.0,704.3 1006.6,704.0 1023.2,706.0 1031.6,706.0 1044.9,709.0 1051.5,709.0 1063.2,707.0 1076.5,706.0 1084.8,704.3 1093.2,704.0 1113.1,706.0 1123.1,705.0 1134.8,705.6 1143.1,700.6 1159.7,699.6 1173.0,702.3 1186.4,702.6 1203.0,704.6 1213.0,704.3 1226.3,706.3 1233.0,708.3 1243.0,708.3 1252.9,709.0 1266.3,706.6 1286.2,708.6 1299.6,705.6 1309.5,708.0 1317.9,707.3 1326.2,705.6 1336.2,706.6 1354.5,709.3" fill="none" stroke="#c0392b" stroke-width="1.1"/>
</g>
<g clip-path="url(#cc)">
<rect x="3" y="735" width="1432" height="31" fill="#e9f4fe"/>
<line x1="3" y1="735.5" x2="1435" y2="735.5" stroke="#787b86" stroke-width="1" stroke-dasharray="5 6"/>
<line x1="3" y1="750.5" x2="1435" y2="750.5" stroke="#787b86" stroke-width="1" stroke-dasharray="5 6"/>
<line x1="3" y1="765.5" x2="1435" y2="765.5" stroke="#787b86" stroke-width="1" stroke-dasharray="5 6"/>
<polyline points="3.4,748.8 7.9,744.9 14.7,735.3 22.6,723.9 30.0,720.0 45.3,722.2 53.2,727.3 61.1,723.4 72.4,725.1 81.5,730.7 89.4,736.9 98.5,742.0 107.5,738.6 120.0,739.2 135.8,738.1 147.1,735.3 160.7,728.5 167.5,727.3 174.8,728.6 189.1,727.6 198.1,733.6 203.1,734.3 211.4,731.3 226.4,737.0 233.0,738.6 241.3,739.6 249.7,731.3 258.0,725.3 264.6,723.7 271.3,724.6 279.6,726.0 288.0,721.3 294.6,735.3 311.3,742.6 326.2,765.9 332.9,760.3 341.2,757.6 347.9,759.3 356.2,757.9 364.5,748.0 369.5,746.6 379.5,742.0 394.5,746.0 401.1,742.6 416.1,744.6 426.1,742.6 432.8,742.0 439.4,741.0 447.7,750.3 462.7,760.9 469.4,755.3 477.7,753.6 484.4,743.6 491.7,729.3 500.0,727.0 506.6,729.3 515.0,731.3 522.6,736.3 530.0,728.6 538.3,723.7 544.9,733.6 552.6,733.0 559.9,728.0 567.2,730.3 576.5,747.0 583.2,754.6 589.9,755.3 598.2,760.3 606.5,748.0 613.2,740.3 621.5,744.6 629.1,747.3 636.5,743.0 643.8,739.6 651.4,742.0 659.1,743.6 666.4,738.0 674.7,733.0 682.0,729.6 689.7,722.3 697.0,723.3 704.7,733.0 719.0,733.3 726.3,737.0 734.7,741.3 742.3,748.6 749.6,741.3 756.3,737.6 764.6,745.3 772.3,757.0 779.6,747.6 787.9,771.9 794.6,771.3 802.9,768.6 809.6,757.0 817.9,756.3 824.5,748.0 832.9,727.6 841.2,724.3 847.8,729.6 856.2,747.0 862.8,751.3 871.1,746.6 877.8,746.3 886.1,752.0 894.4,761.9 901.1,756.3 909.4,752.0 916.1,765.3 923.7,767.9 931.1,777.6 939.4,771.9 952.7,766.9 961.0,757.9 969.4,750.9 977.7,749.3 984.0,767.6 991.6,766.9 999.9,769.6 1006.6,766.3 1014.9,759.6 1021.6,761.3 1036.6,757.0 1044.9,750.3 1052.5,753.6 1060.5,780.2 1068.2,795.9 1074.8,785.2 1082.5,784.6 1089.8,774.6 1096.5,772.6 1106.5,767.6 1113.1,765.3 1121.5,758.0 1128.1,753.6 1135.4,754.6 1143.1,767.9 1150.7,776.9 1159.1,770.3 1166.4,767.6 1173.0,765.9 1181.4,769.6 1189.0,769.6 1196.4,767.6 1204.0,764.6 1211.3,768.6 1219.7,766.9 1228.0,765.3 1235.6,765.3 1243.0,760.3 1250.3,756.3 1257.3,754.6 1265.6,750.9 1272.9,753.6 1280.2,750.9 1287.9,750.9 1295.6,761.3 1302.9,780.2 1310.2,780.2 1317.9,766.9 1325.5,748.0 1332.8,742.0 1340.5,735.3 1347.8,735.3 1354.5,735.8" fill="none" stroke="#3d6ff5" stroke-width="1.1"/>
</g>
<rect x="8" y="722" width="152" height="22" fill="#ffffff" fill-opacity="0.6"/>
<rect x="1435" y="1" width="1" height="829" fill="#555659"/>
<rect x="3" y="802" width="1496" height="1" fill="#555659"/>
<defs><clipPath id="flagc"><circle cx="21" cy="17" r="9"/></clipPath></defs>
<g clip-path="url(#flagc)">
<rect x="12" y="8" width="18" height="18" fill="#ffffff"/>
<rect x="12" y="8" width="18" height="4.2" fill="#e9504a"/>
<rect x="12" y="14.6" width="18" height="4.2" fill="#e9504a"/>
<rect x="12" y="21.6" width="18" height="4.4" fill="#e9504a"/>
<rect x="12" y="8" width="11.2" height="10.6" fill="#3b82e6"/>
<g fill="#ffffff"><circle cx="14.5" cy="10.5" r=".6"/><circle cx="17.5" cy="10.5" r=".6"/><circle cx="20.5" cy="10.5" r=".6"/>
<circle cx="14.5" cy="13.3" r=".6"/><circle cx="17.5" cy="13.3" r=".6"/><circle cx="20.5" cy="13.3" r=".6"/>
<circle cx="14.5" cy="16.1" r=".6"/><circle cx="17.5" cy="16.1" r=".6"/><circle cx="20.5" cy="16.1" r=".6"/></g>
</g>
<text x="34.3" y="23.2" font-size="15" fill="#484b53" textLength="303" lengthAdjust="spacingAndGlyphs" >US Government Bonds 2 YR Yield · 1D · TVC</text>
<circle cx="362" cy="17" r="8.5" fill="#d5ece4"/><circle cx="362" cy="17" r="3.8" fill="#089981"/>
<text x="386.8" y="22.3" font-size="12.5" fill="#5a5d66" textLength="310.6" lengthAdjust="spacingAndGlyphs">O<tspan fill="#245e3f">4.393%</tspan> H<tspan fill="#245e3f">4.415%</tspan> L<tspan fill="#245e3f">4.374%</tspan> C<tspan fill="#245e3f">4.402%</tspan> <tspan fill="#245e3f">+0.009 (+0.20%)</tspan></text>
<rect x="11.5" y="33.5" width="47" height="23" rx="4" fill="#fff" stroke="#f23645" stroke-width="1"/>
<text x="18.9" y="49.9" font-size="12.5" fill="#f23645" textLength="31.6" lengthAdjust="spacingAndGlyphs" >4.458</text>
<text x="67.5" y="49.9" font-size="12.5" fill="#131722" textLength="32" lengthAdjust="spacingAndGlyphs" >−0.013</text>
<rect x="108.5" y="33.5" width="47" height="23" rx="4" fill="#fff" stroke="#2962ff" stroke-width="1"/>
<text x="115.7" y="49.9" font-size="12.5" fill="#2962ff" textLength="31.6" lengthAdjust="spacingAndGlyphs" >4.445</text>
<text x="12" y="77.7" font-size="12" fill="#5a5d66" textLength="382.7" lengthAdjust="spacingAndGlyphs" >MA Ribbon SMA close 20 SMA close 50 SMA close 100 SMA close 200</text>
<text x="403.4" y="77.7" font-size="12" fill="#f23645" textLength="39.7" lengthAdjust="spacingAndGlyphs" >4.312%</text>
<text x="449.6" y="77.7" font-size="12" fill="#2962ff" textLength="39.2" lengthAdjust="spacingAndGlyphs" >4.518%</text>
<text x="495.9" y="77.7" font-size="12" fill="#131722" textLength="6.9" lengthAdjust="spacingAndGlyphs" >∅</text>
<text x="509.3" y="77.7" font-size="12" fill="#131722" textLength="39.2" lengthAdjust="spacingAndGlyphs" >4.689%</text>
<rect x="12.5" y="87.5" width="28" height="20" rx="4" fill="#fff" stroke="#d1d4dc" stroke-width="1"/>
<path d="M22.5,99.5 L26.5,95.5 L30.5,99.5" fill="none" stroke="#131722" stroke-width="1.4"/>
<text x="12" y="707.3" font-size="12" fill="#5a5d66" textLength="67.2" lengthAdjust="spacingAndGlyphs" >ATR 14 RMA</text>
<text x="87.6" y="707.3" font-size="12" fill="#b22833" textLength="39.6" lengthAdjust="spacingAndGlyphs" >0.089%</text>
<text x="12" y="737" font-size="12" fill="#5a5d66" textLength="101.2" lengthAdjust="spacingAndGlyphs" >CCI 20 hlc3 SMA 5</text>
<text x="122.5" y="737" font-size="12" fill="#2962ff" textLength="31.3" lengthAdjust="spacingAndGlyphs" >94.66</text>
<g transform="translate(15,769.7) scale(0.82)" fill="#131722"><path d="M14 22H7V11H0V4h14v18zM28 22h-8l7.5-18h8L28 22z"/><circle cx="20" cy="8" r="4"/></g>
<text x="1443.2" y="72.1" font-size="12" fill="#4a4d57" textLength="36" lengthAdjust="spacingAndGlyphs" >5.200%</text>
<text x="1443.2" y="180" font-size="12" fill="#4a4d57" textLength="36" lengthAdjust="spacingAndGlyphs" >5.000%</text>
<text x="1443.2" y="234" font-size="12" fill="#4a4d57" textLength="36" lengthAdjust="spacingAndGlyphs" >4.900%</text>
<text x="1443.2" y="288" font-size="12" fill="#4a4d57" textLength="36" lengthAdjust="spacingAndGlyphs" >4.800%</text>
<text x="1443.2" y="342" font-size="12" fill="#4a4d57" textLength="36" lengthAdjust="spacingAndGlyphs" >4.700%</text>
<text x="1443.2" y="396" font-size="12" fill="#4a4d57" textLength="36" lengthAdjust="spacingAndGlyphs" >4.600%</text>
<text x="1443.2" y="450" font-size="12" fill="#4a4d57" textLength="36" lengthAdjust="spacingAndGlyphs" >4.500%</text>
<text x="1443.2" y="558" font-size="12" fill="#4a4d57" textLength="36" lengthAdjust="spacingAndGlyphs" >4.300%</text>
<text x="1443.2" y="612" font-size="12" fill="#4a4d57" textLength="36" lengthAdjust="spacingAndGlyphs" >4.200%</text>
<text x="1443.2" y="666" font-size="12" fill="#4a4d57" textLength="36" lengthAdjust="spacingAndGlyphs" >4.100%</text>
<text x="1443.2" y="709.7" font-size="12" fill="#4a4d57" textLength="36" lengthAdjust="spacingAndGlyphs" >0.100%</text>
<text x="1443.2" y="724.1" font-size="12" fill="#4a4d57" textLength="36" lengthAdjust="spacingAndGlyphs" >200.00</text>
<text x="1443.2" y="755.5" font-size="12" fill="#4a4d57" textLength="24" lengthAdjust="spacingAndGlyphs" >0.00</text>
<text x="1443.2" y="784.8" font-size="12" fill="#4a4d57" textLength="42" lengthAdjust="spacingAndGlyphs" >−200.00</text>
<rect x="1439.5" y="5.5" width="55" height="25" rx="4" fill="#fff" stroke="#e0e3eb" stroke-width="1"/>
<text x="1442.7" y="22" font-size="11" fill="#131722" textLength="7.5" lengthAdjust="spacingAndGlyphs" >%</text>
<path d="M1435,103 h48 a2,2 0 0 1 2,2 v13 a2,2 0 0 1 -2,2 h-48 z" fill="#000000"/>
<text x="1443.0" y="116.1" font-size="13" fill="#ffffff" textLength="36.5" lengthAdjust="spacingAndGlyphs" font-weight="bold" >5.118%</text>
<path d="M1435,121 h48 a2,2 0 0 1 2,2 v13 a2,2 0 0 1 -2,2 h-48 z" fill="#000000"/>
<text x="1443.0" y="134.1" font-size="13" fill="#ffffff" textLength="36.5" lengthAdjust="spacingAndGlyphs" font-weight="bold" >5.085%</text>
<path d="M1435,230.5 h48 a2,2 0 0 1 2,2 v13 a2,2 0 0 1 -2,2 h-48 z" fill="#2962ff"/>
<text x="1443.0" y="243.6" font-size="13" fill="#ffffff" textLength="36.5" lengthAdjust="spacingAndGlyphs" font-weight="bold" >4.882%</text>
<path d="M1435,490.2 h58 a2,2 0 0 1 2,2 v12.5 a2,2 0 0 1 -2,2 h-58 z" fill="#6ba583"/>
<text x="1443.0" y="503.05" font-size="13" fill="#e6f2eb" textLength="46.5" lengthAdjust="spacingAndGlyphs" >08:06:45</text>
<path d="M1435,513 h48 a2,2 0 0 1 2,2 v12.5 a2,2 0 0 1 -2,2 h-48 z" fill="#2962ff"/>
<text x="1443.0" y="525.85" font-size="13" fill="#ffffff" textLength="36.5" lengthAdjust="spacingAndGlyphs" font-weight="bold" >4.359%</text>
<path d="M1435,562 h48 a2,2 0 0 1 2,2 v13 a2,2 0 0 1 -2,2 h-48 z" fill="#2962ff"/>
<text x="1443.0" y="575.1" font-size="13" fill="#ffffff" textLength="36.5" lengthAdjust="spacingAndGlyphs" font-weight="bold" >4.268%</text>
<path d="M1435,663 h48 a2,2 0 0 1 2,2 v13 a2,2 0 0 1 -2,2 h-48 z" fill="#2962ff"/>
<text x="1443.0" y="676.1" font-size="13" fill="#ffffff" textLength="36.5" lengthAdjust="spacingAndGlyphs" font-weight="bold" >4.081%</text>
<text x="8.5" y="820" font-size="12" fill="#4a4d57" text-anchor="middle" >16</text>
<text x="99.5" y="820" font-size="12" fill="#4a4d57" text-anchor="middle" >Jun</text>
<text x="182.5" y="820" font-size="12" fill="#4a4d57" text-anchor="middle" >16</text>
<text x="265.5" y="820" font-size="12" fill="#4a4d57" text-anchor="middle" >Jul</text>
<text x="424.5" y="820" font-size="12" fill="#4a4d57" text-anchor="middle" >Aug</text>
<text x="507.5" y="820" font-size="12" fill="#4a4d57" text-anchor="middle" >16</text>
<text x="598.5" y="820" font-size="12" fill="#4a4d57" text-anchor="middle" >Sep</text>
<text x="750.5" y="820" font-size="12" fill="#4a4d57" text-anchor="middle" >Oct</text>
<text x="833.5" y="820" font-size="12" fill="#4a4d57" text-anchor="middle" >17</text>
<text x="916.5" y="820" font-size="12" fill="#4a4d57" text-anchor="middle" >Nov</text>
<text x="1000.5" y="820" font-size="12" fill="#4a4d57" text-anchor="middle" >16</text>
<text x="1083.5" y="820" font-size="12" fill="#4a4d57" text-anchor="middle" >Dec</text>
<text x="1318.5" y="820" font-size="12" fill="#4a4d57" text-anchor="middle" >16</text>
<text x="1408.5" y="820" font-size="12" fill="#4a4d57" text-anchor="middle" >Feb</text>
<text x="1234.5" y="820" font-size="12" fill="#131722" text-anchor="middle" >2024</text>
<path d="M1460.8,816.8 L1464.3,810.5 L1471.1,810.5 L1474.6,816.8 L1471.1,823.1 L1464.3,823.1 Z" fill="none" stroke="#131722" stroke-width="1"/><circle cx="1467.7" cy="816.8" r="1.8" fill="none" stroke="#131722" stroke-width="1"/>
<defs><filter id="wmsh" x="-10%" y="-10%" width="130%" height="140%"><feDropShadow dx="1.5" dy="2" stdDeviation="0.75" flood-color="#4a4a4a" flood-opacity="0.8"/></filter>
<filter id="wmsh2" x="-10%" y="-10%" width="130%" height="140%"><feDropShadow dx="1.2" dy="1.6" stdDeviation="0.5" flood-color="#6f7fc0" flood-opacity="0.9"/></filter></defs>
<g filter="url(#wmsh)" fill="none" stroke="#ffffff" stroke-opacity="0.92" stroke-width="5" stroke-linejoin="round">
<polyline points="1279,741 1277,750"/>
<polyline points="1266,753 1279,753"/>
<polyline points="1264,761 1276,761"/>
<polyline points="1288,749.5 1320,749.5"/>
<polyline points="1320,743 1309,789 1304,792.5"/>
<polyline points="1255,792.5 1305,792.5"/>
<polyline points="1287,759 1305,759"/>
<polyline points="1288,759 1281,785.5"/>
<polyline points="1282,776 1300.5,776"/>
<polyline points="1300.5,776 1297,784"/>
<polyline points="1273,775 1265,789 1260,792.5"/>
<polyline points="1263.5,773 1273,773"/>
<polyline points="1329,747 1367,747"/>
<polyline points="1336,750 1333,760"/>
<polyline points="1333,760 1364,760"/>
<polyline points="1367,747 1364,760"/>
<polyline points="1324,769 1362,769"/>
<polyline points="1362,769 1358,784 1318,784"/>
<polyline points="1378,741 1366,790 1360,794 1343,794"/>
<polyline points="1391,750 1385,777 1376,794"/>
<polyline points="1391,750 1403,750"/>
<polyline points="1403,750 1395,777"/>
<polyline points="1396,781 1399,792"/>
<polyline points="1412,753 1427,753"/>
<polyline points="1413.5,742 1404.5,780.5 1400.5,792.5"/>
<polyline points="1391,792.5 1407,792.5"/>
<polyline points="1426,755 1410,791.5"/>
<polyline points="1414,792.5 1427,792.5"/>
<polyline points="1437.5,753.5 1427.5,790.5"/>
<polyline points="1465,741 1452,771"/>
<polyline points="1444,763 1452,763"/>
<polyline points="1436,792.3 1488,792.3"/>
<polyline points="1452,775 1492,775"/>
<polyline points="1471,747.6 1486,747.6"/>
<polyline points="1499,744 1487,757"/>
<polyline points="1474,757 1494,766"/>
<polyline points="1470,780 1466,792"/>
</g>
<g filter="url(#wmsh2)" font-family="Liberation Sans" font-weight="bold" font-style="italic" font-size="32" fill="#8ec9fb" stroke="#8ec9fb" stroke-width="1.2">
<text x="1267.5" y="826">z</text>
<text x="1294" y="826">z</text>
<text x="1322.5" y="826">r</text>
<text x="1347.3" y="826">t</text>
<text x="1365.6" y="826">0</text>
<text x="1397" y="826">1</text>
<text x="1425" y="826">.</text>
<text x="1445" y="826">c</text>
<text x="1470.3" y="826">n</text>
</g>
</svg>
</body></html>
